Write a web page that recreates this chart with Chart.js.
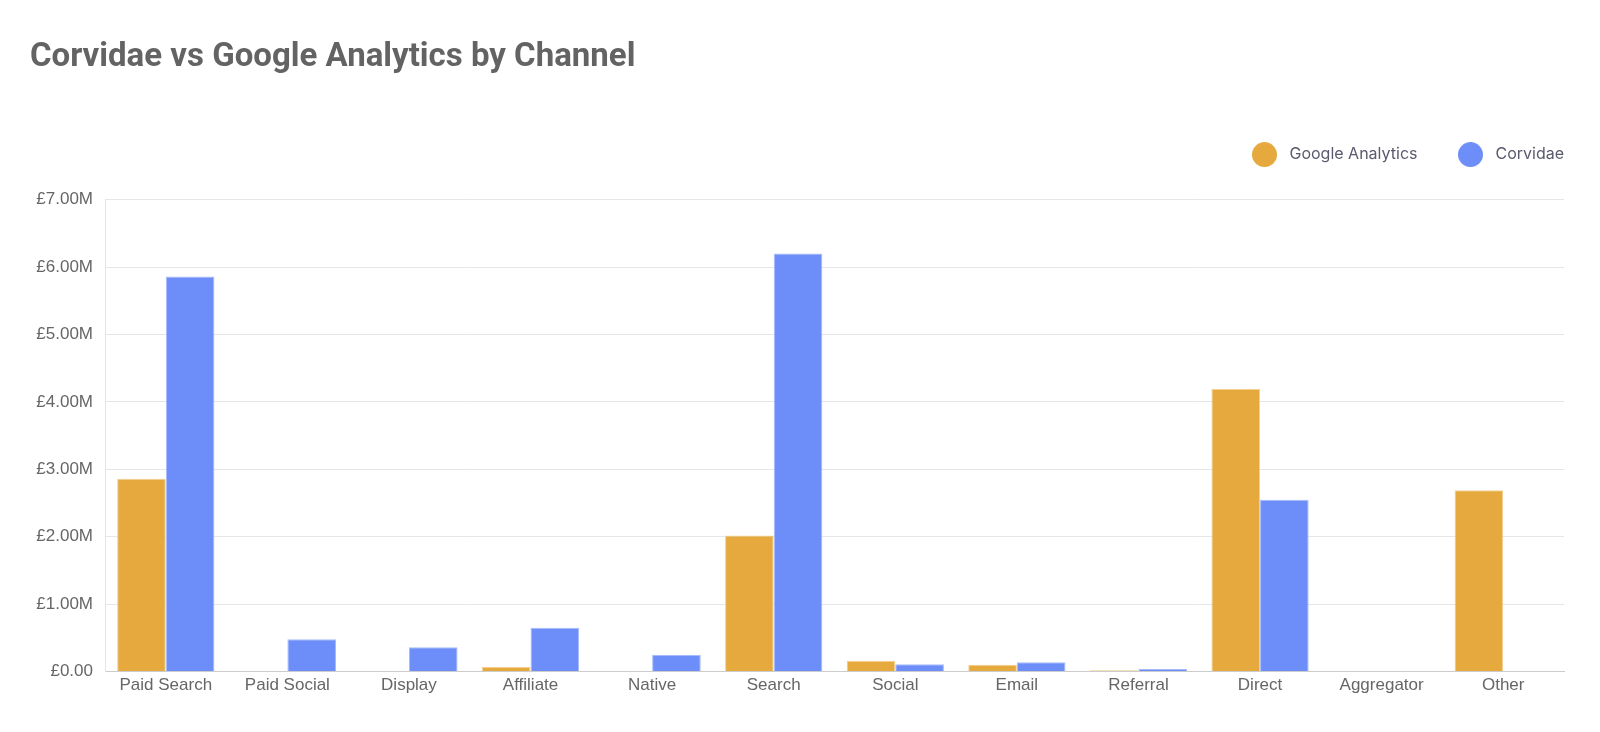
<!DOCTYPE html>
<html>
<head>
<meta charset="utf-8">
<script src="https://cdn.jsdelivr.net/npm/chart.js@4"></script>
<style>
  html, body { margin: 0; padding: 0; background: #fff; }
  #wrap { width: 1600px; height: 732px; position: relative; }
</style>
</head>
<body>
<div id="wrap"><canvas id="chart"></canvas></div>
<script>
// Channels and revenue (GBP, millions)
const channels = ['Paid Search', 'Paid Social', 'Display', 'Affiliate', 'Native', 'Search',
  'Social', 'Email', 'Referral', 'Direct', 'Aggregator', 'Other'];
const googleAnalytics = [2.86, 0, 0, 0.07, 0, 2.02, 0.16, 0.10, 0.02, 4.19, 0, 2.69];
const corvidae = [5.86, 0.48, 0.36, 0.65, 0.25, 6.20, 0.11, 0.14, 0.04, 2.55, 0, 0];
const yTicks = [0, 1, 2, 3, 4, 5, 6, 7];

const colors = {
  ga: { bg: '#e5a93d', border: '#f3d08f' },
  corvidae: { bg: '#6d8ef8', border: '#a7bafc' }
};

// round legend markers
function dot(color, size) {
  const c = document.createElement('canvas');
  c.width = size; c.height = size;
  const g = c.getContext('2d');
  g.fillStyle = color;
  g.beginPath();
  g.arc(size / 2, size / 2, size / 2, 0, Math.PI * 2);
  g.fill();
  return c;
}
const dots = [dot(colors.ga.bg, 25), dot(colors.corvidae.bg, 25)];

const fmt = v => v === 0 ? '£0.00' : '£' + v.toFixed(2) + 'M';

// legend sits flush with the right edge of the plot (no trailing padding)
const legendNudge = {
  id: 'legendNudge',
  afterLayout(chart) {
    chart.legend.right += 36;
    chart.legend.width += 36;
  }
};

new Chart(document.getElementById('chart'), {
  type: 'bar',
  data: {
    labels: channels,
    datasets: [
      {
        label: 'Google Analytics',
        data: googleAnalytics,
        backgroundColor: colors.ga.bg,
        borderColor: colors.ga.border,
        borderWidth: 1,
        categoryPercentage: 0.8,
        barPercentage: 1
      },
      {
        label: 'Corvidae',
        data: corvidae,
        backgroundColor: colors.corvidae.bg,
        borderColor: colors.corvidae.border,
        borderWidth: 1,
        categoryPercentage: 0.8,
        barPercentage: 1
      }
    ]
  },
  plugins: [legendNudge],
  options: {
    responsive: true,
    maintainAspectRatio: false,
    animation: false,
    layout: { padding: { top: 20, right: 36, left: 30, bottom: 32 } },
    plugins: {
      title: {
        display: true,
        text: 'Corvidae vs Google Analytics by Channel',
        align: 'start',
        color: '#636363',
        font: { family: 'Roboto', size: 33, weight: 'bold' },
        padding: { top: 18, bottom: 33 }
      },
      // spacer between legend and plot
      subtitle: {
        display: true,
        text: '',
        weight: 500,
        font: { size: 10, lineHeight: 1 },
        padding: { top: 0, bottom: 17 }
      },
      legend: {
        position: 'top',
        align: 'end',
        labels: {
          usePointStyle: true,
          generateLabels: chart => Chart.defaults.plugins.legend.labels.generateLabels(chart)
            .map((item, i) => Object.assign(item, { pointStyle: dots[i] })),
          pointStyleWidth: 34,
          padding: 36,
          color: '#5a5a6e',
          font: { family: 'Inter', size: 16 }
        }
      },
      tooltip: { enabled: false }
    },
    scales: {
      x: {
        grid: { display: false, drawTicks: false },
        border: { color: '#cccccc' },
        ticks: {
          padding: 4,
          color: '#666',
          font: { family: 'Liberation Sans', size: 17 }
        }
      },
      y: {
        min: 0,
        max: 7,
        afterBuildTicks: axis => { axis.ticks = yTicks.map(v => ({ value: v })); },
        afterFit: axis => { axis.width = 75; },
        grid: { color: '#e6e6e6', drawTicks: false },
        border: { color: '#e6e6e6' },
        ticks: {
          padding: 12,
          color: '#666',
          font: { family: 'Liberation Sans', size: 17 },
          callback: v => fmt(v)
        }
      }
    }
  }
});
</script>
</body>
</html>
